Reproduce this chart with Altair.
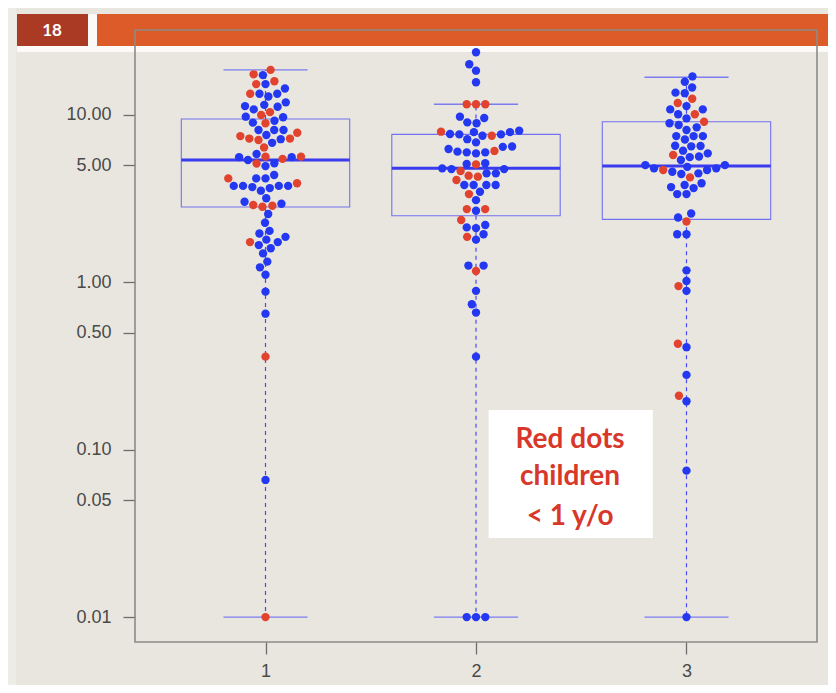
import math
import altair as alt
import pandas as pd

# ---------------- data ----------------
groups = [1, 2, 3]

g1_blue = [17.3, 15.3, 14.4, 13.4, 13.4, 12.9, 11.9, 11.5, 11.3, 11.2, 10.8, 9.77, 9.69, 9.24, 9.0,
           8.13, 8.13, 8.13, 7.59, 7.17, 6.82, 5.85, 5.6, 5.6, 5.38, 5.15, 4.95, 4.38, 4.18, 4.18,
           3.77, 3.77, 3.77, 3.77, 3.71, 3.66, 3.53, 3.18, 3.03, 2.95, 2.56, 2.27, 2.03, 1.96, 1.87,
           1.80, 1.74, 1.67, 1.60, 1.49, 1.33, 1.23, 1.11, 0.88, 0.65, 0.066]
g1_red = [18.6, 17.5, 15.9, 15.3, 13.4, 10.4, 10.0, 8.93, 7.83, 7.48, 7.23, 7.23, 7.09, 6.40, 5.64,
          5.64, 5.47, 5.13, 4.18, 3.91, 2.90, 2.87, 2.83, 1.74, 0.36, 0.01]

g2_blue = [23.7, 20.1, 18.4, 15.7, 9.77, 9.6, 9.04, 8.93, 8.06, 7.9, 7.9, 7.7, 7.66, 7.66, 7.52, 7.17,
           6.86, 6.48, 6.45, 6.26, 6.04, 5.98, 5.98, 5.9, 5.15, 5.1, 4.8, 4.75, 4.75, 4.48, 4.48,
           3.82, 3.82, 3.82, 3.82, 3.48, 3.10, 2.68, 2.20, 2.13, 2.11, 1.94, 1.80, 1.26, 1.26, 0.89,
           0.74, 0.66, 0.36, 0.01, 0.01, 0.01]
g2_red = [11.6, 11.6, 11.6, 7.95, 7.52, 6.1, 5.07, 4.63, 4.34, 4.28, 4.09, 3.37, 2.74, 2.74, 2.36,
          1.87, 1.17]

g3_blue = [17.0, 15.8, 14.6, 13.6, 13.5, 11.3, 10.8, 10.8, 10.1, 9.55, 8.93, 8.71, 8.44, 8.13, 7.48,
           7.48, 7.48, 7.14, 6.55, 6.53, 6.5, 6.12, 5.9, 5.65, 5.6, 5.38, 5.02, 5.02, 4.9, 4.8, 4.8,
           4.69, 4.58, 4.48, 4.44, 3.91, 3.82, 3.71, 3.66, 3.37, 3.37, 2.58, 2.44, 1.94, 1.94, 1.18,
           1.02, 0.89, 0.41, 0.28, 0.195, 0.075, 0.01]
g3_red = [12.5, 11.8, 10.1, 9.12, 5.77, 4.69, 4.24, 2.31, 0.95, 0.43, 0.21]

box_q1 = [2.82, 2.50, 2.38]
box_median = [5.38, 4.80, 4.96]
box_q3 = [9.46, 7.66, 9.12]
whisker_low = [0.01, 0.01, 0.01]
whisker_high = [18.6, 11.6, 16.8]

y_ticks = [0.01, 0.05, 0.1, 0.5, 1, 5, 10]
x_ticks = [1, 2, 3]

note_lines = ["Red dots", "children", "< 1 y/o"]
note_y = [0.114, 0.0686, 0.0395]
note_x = 2.447
note_box = {"x": 2.06, "x2": 2.84, "y": 0.173, "y2": 0.0297}

slide_number = "18"

# ---------------- layout / style ----------------
W, H = 682, 612
X_DOMAIN = [0.38, 3.62]
Y_DOMAIN = [0.0071, 32.2]
DOT = 9.3  # swarm spacing in px

BLUE = "#2338f0"
RED = "#e2432f"
BG = "#e8e6df"


def swarm(values):
    """Beeswarm (swarm method): pixel x-offsets, placing points in ascending order."""
    lo, hi = math.log10(Y_DOMAIN[0]), math.log10(Y_DOMAIN[1])
    ys = [(hi - math.log10(v)) / (hi - lo) * H for v in values]
    order = sorted(range(len(values)), key=lambda i: values[i])
    placed = []
    offs = [0.0] * len(values)
    for i in order:
        y = ys[i]
        cands = [0.0]
        for px, py in placed:
            dy = abs(y - py)
            if dy < DOT:
                dx = math.sqrt(DOT * DOT - dy * dy)
                cands += [px + dx, px - dx]
        cands.sort(key=lambda c: (round(abs(c), 6), c))
        chosen = None
        for c in cands:
            if all((c - px) ** 2 + (y - py) ** 2 >= DOT * DOT - 1e-6 for px, py in placed):
                chosen = c
                break
        if chosen is None:
            chosen = max([abs(p[0]) for p in placed] + [0]) + DOT
        placed.append((chosen, y))
        offs[i] = chosen
    return offs


px_per_unit = W / (X_DOMAIN[1] - X_DOMAIN[0])
rows = []
for g, blue, red in zip(groups, [g1_blue, g2_blue, g3_blue], [g1_red, g2_red, g3_red]):
    vals = blue + red
    ages = ["other"] * len(blue) + ["child"] * len(red)
    offs = swarm(vals)
    for v, a, o in zip(vals, ages, offs):
        rows.append({"x": g + o / px_per_unit, "value": v, "age": a})
points = pd.DataFrame(rows)

boxes = pd.DataFrame({
    "g": groups, "q1": box_q1, "med": box_median, "q3": box_q3,
    "lo": whisker_low, "hi": whisker_high,
})
boxes["xl"] = boxes["g"] - 0.4
boxes["xr"] = boxes["g"] + 0.4
boxes["cl"] = boxes["g"] - 0.2
boxes["cr"] = boxes["g"] + 0.2

x_scale = alt.Scale(domain=X_DOMAIN, nice=False, zero=False)
y_scale = alt.Scale(type="log", domain=Y_DOMAIN, nice=False)
x_axis = alt.Axis(values=x_ticks, format="d", title=None, grid=False, domain=False,
                  tickSize=12, tickColor="#6e6e6e", tickWidth=1.3,
                  labelFontSize=18, labelColor="#4a4a4a", labelFont="Liberation Sans",
                  labelPadding=8)
y_axis = alt.Axis(values=y_ticks, format=".2f", title=None, grid=False, domain=False,
                  tickSize=12, tickColor="#6e6e6e", tickWidth=1.3,
                  labelFontSize=18, labelColor="#4a4a4a", labelFont="Liberation Sans",
                  labelPadding=12)


def X(field):
    return alt.X(field, type="quantitative", scale=x_scale, axis=x_axis)


def Y(field):
    return alt.Y(field, type="quantitative", scale=y_scale, axis=y_axis)


one = alt.Data(values=[{"a": 1}])

# ---------------- slide chrome ----------------
left_strip = alt.Chart(one).mark_rect(color="#eeece7").encode(
    x=alt.value(-135), x2=alt.value(-119), y=alt.value(-30), y2=alt.value(H + 60))
white_band = alt.Chart(one).mark_rect(color="#fbfaf8").encode(
    x=alt.value(-118), x2=alt.value(W + 20), y=alt.value(-16), y2=alt.value(22))
num_box = alt.Chart(one).mark_rect(color="#ab3a25").encode(
    x=alt.value(-118), x2=alt.value(-47), y=alt.value(-16), y2=alt.value(16))
orange_bar = alt.Chart(one).mark_rect(color="#dd5b28").encode(
    x=alt.value(-38), x2=alt.value(W + 20), y=alt.value(-16), y2=alt.value(16))
num_text = alt.Chart(one).mark_text(
    text=slide_number, color="white", font="Lato", fontWeight="bold", fontSize=17,
    align="center", baseline="middle").encode(x=alt.value(-83), y=alt.value(1))

# ---------------- boxplot ----------------
base_box = alt.Chart(boxes)
box_rect = base_box.mark_rect(fillOpacity=0, stroke="#7272f0", strokeWidth=1.1).encode(
    x=X("xl"), x2="xr", y=Y("q1"), y2="q3")
median = base_box.mark_rule(color="#3a3aee", strokeWidth=3).encode(
    x=X("xl"), x2="xr", y=Y("med"))
whisk_up = base_box.mark_rule(color="#4a4af2", strokeWidth=1.2, strokeDash=[4, 4]).encode(
    x=X("g"), y=Y("q3"), y2="hi")
whisk_dn = base_box.mark_rule(color="#4a4af2", strokeWidth=1.2, strokeDash=[4, 4]).encode(
    x=X("g"), y=Y("q1"), y2="lo")
cap_up = base_box.mark_rule(color="#7d7df0", strokeWidth=1.4).encode(
    x=X("cl"), x2="cr", y=Y("hi"))
cap_dn = base_box.mark_rule(color="#7d7df0", strokeWidth=1.4).encode(
    x=X("cl"), x2="cr", y=Y("lo"))

# ---------------- points ----------------
dots = alt.Chart(points).mark_circle(size=70, opacity=1).encode(
    x=X("x"), y=Y("value"),
    color=alt.Color("age:N", scale=alt.Scale(domain=["other", "child"], range=[BLUE, RED]),
                    legend=None),
    order=alt.Order("age:N", sort="descending"),
)

# ---------------- annotation ----------------
note_rect = alt.Chart(alt.Data(values=[note_box])).mark_rect(color="white").encode(
    x=X("x:Q"), x2="x2:Q", y=Y("y:Q"), y2="y2:Q")
note_df = pd.DataFrame({"x": [note_x] * 3, "y": note_y, "t": note_lines})
note_text = alt.Chart(note_df).mark_text(
    color="#d8382a", font="Lato", fontWeight="bold", fontSize=28,
    align="center", baseline="middle").encode(x=X("x"), y=Y("y"), text="t:N")

# ---------------- frame ----------------
frame = alt.Chart(one).mark_rect(fillOpacity=0, stroke="#8b8b87", strokeWidth=1.6).encode(
    x=alt.value(0), x2=alt.value(W), y=alt.value(0), y2=alt.value(H))

chart = alt.layer(
    box_rect, left_strip, white_band, num_box, orange_bar, num_text,
    median, whisk_up, whisk_dn, cap_up, cap_dn,
    note_rect, note_text, dots, frame,
).properties(
    width=W, height=H,
    autosize=alt.AutoSizeParams(type="none"),
    padding={"left": 127, "top": 22, "right": 11, "bottom": 43},
    background=BG,
).configure_view(stroke=None)

chart.save("out.html", embed_options={"renderer": "svg", "actions": False})
